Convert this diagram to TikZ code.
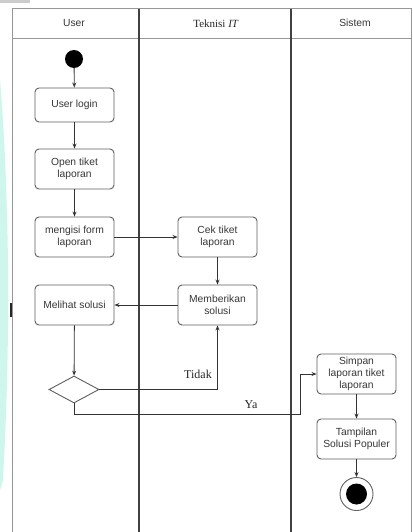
\documentclass[tikz,border=0pt]{standalone}
\usepackage{fontspec}
\setmainfont{Liberation Serif}
\setsansfont{Liberation Sans}
\usetikzlibrary{arrows.meta,shapes.geometric}
\definecolor{mint}{RGB}{206,246,234}
\definecolor{lanegray}{RGB}{150,150,150}
\definecolor{boxgray}{RGB}{95,95,95}
\definecolor{txtgray}{RGB}{55,55,55}
\tikzset{
  act/.style={draw=boxgray, line width=0.9pt, rounded corners=4pt, fill=white,
    minimum width=79pt, minimum height=34pt, align=center, inner sep=1pt,
    font=\sffamily\fontsize{10.3}{12}\selectfont, text=txtgray},
  act2/.style={act, minimum height=40pt},
  flow/.style={draw=black!80, line width=0.8pt, -{Stealth[length=5pt,width=4pt]}},
  lane/.style={draw=lanegray, line width=1pt},
  divider/.style={draw=black!75, line width=1.1pt},
  hdr/.style={font=\sffamily\fontsize{10.3}{12}\selectfont, text=txtgray},
  lbl/.style={font=\fontsize{12}{14}\selectfont, text=black!85}
}
\begin{document}
\begin{tikzpicture}[x=1pt,y=-1pt]
\useasboundingbox (0,0) rectangle (412,532);
\fill[white] (0,0) rectangle (412,532);
% watermark band
\fill[mint] (0,80) .. controls (6,150) and (9,250) .. (8,330) .. controls (7,400) and (5,440) .. (3,480) -- (0,490) -- cycle;
\fill[black!20] (0,0) rectangle (30,3);
% frame
\draw[lane] (12,9) -- (411.5,9);
\draw[lane] (12,38.5) -- (411.5,38.5);
\draw[lane] (12,9) -- (12,532);
\draw[lane] (411.5,9) -- (411.5,532);
\draw[divider] (139,9) -- (139,532);
\draw[divider] (291,9) -- (291,532);
\fill[black!85] (9.5,303) rectangle (12,317);
% headers
\node[hdr] (hUser) at (74,23) {User};
\node[font=\fontsize{11}{13}\selectfont, text=black!85] (hTek) at (216,23.5) {Teknisi \textit{IT}};
\node[hdr] (hSis) at (355,22.5) {Sistem};
% nodes
\node[circle, fill=black, minimum size=18pt, inner sep=0pt] (start) at (74,59) {};
\node[act] (login) at (74.5,105) {User login};
\node[act2] (open) at (74.5,169) {Open tiket\\laporan};
\node[act2] (isi) at (74.5,237) {mengisi form\\laporan};
\node[act2] (cek) at (217.5,237) {Cek tiket\\laporan};
\node[act2] (beri) at (217.5,305) {Memberikan\\solusi};
\node[act2] (lihat) at (74.5,305) {Melihat solusi};
\node[diamond, draw=boxgray, line width=0.9pt, fill=white, minimum width=50pt, minimum height=27pt, inner sep=0pt, aspect=1.85] (dec) at (74,389.5) {};
\node[act2] (simpan) at (356.5,374) {Simpan\\laporan tiket\\laporan};
\node[act2] (tampil) at (356.5,439) {Tampilan\\Solusi Populer};
\node[circle, draw=boxgray, line width=0.9pt, fill=white, minimum size=33pt, inner sep=0pt] (endo) at (356.5,494) {};
\node[circle, fill=black, minimum size=21pt, inner sep=0pt] (endi) at (356.5,494) {};
\coordinate (yaA) at (74,414);
\coordinate (yaB) at (300,414);
\coordinate (yaC) at (300,374);
\coordinate (tdA) at (217.5,389.5);
% connectors
\draw[flow] (start) -- (login);
\draw[flow] (login) -- (open);
\draw[flow] (open) -- (isi);
\draw[flow] (isi) -- (cek);
\draw[flow] (cek) -- (beri);
\draw[flow] (beri) -- (lihat);
\draw[flow] (lihat) -- (dec);
\draw[flow] (dec.east) -- (tdA) -- (beri.south);
\draw[flow] (dec.south) -- (yaA) -- (yaB) -- (yaC) -- (simpan.west);
\draw[flow] (simpan) -- (tampil);
\draw[flow] (tampil) -- (endo);
% labels
\node[lbl] (tidak) at (198,374) {Tidak};
\node[lbl] (ya) at (251,405) {Ya};
\end{tikzpicture}
\end{document}
